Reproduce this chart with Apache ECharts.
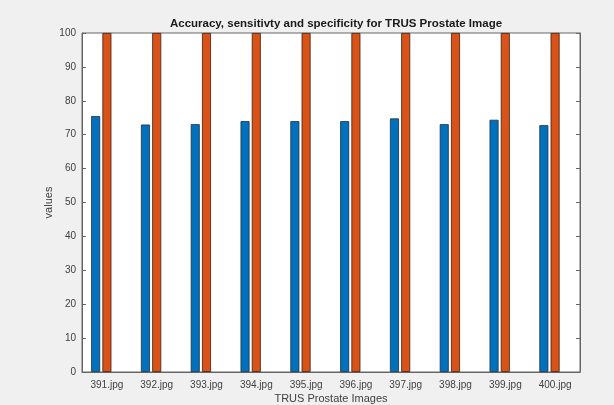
<!DOCTYPE html>
<html>
<head>
<meta charset="utf-8">
<script src="https://cdn.jsdelivr.net/npm/echarts@6/dist/echarts.min.js"></script>
<style>
html,body{margin:0;padding:0;background:#f0f0f0;}
#c{width:614px;height:405px;}
</style>
</head>
<body>
<div id="c"></div>
<script>
const categories = ['391.jpg','392.jpg','393.jpg','394.jpg','395.jpg','396.jpg','397.jpg','398.jpg','399.jpg','400.jpg'];
const accuracy = [75.5, 73.0, 73.1, 74.0, 74.0, 74.0, 74.8, 73.1, 74.4, 72.8];
const sensitivity = [100, 100, 100, 100, 100, 100, 100, 100, 100, 100];
const specificity = [0, 0, 0, 0, 0, 0, 0, 0, 0, 0];
const yTicks = [0, 10, 20, 30, 40, 50, 60, 70, 80, 90, 100];

const chart = echarts.init(document.getElementById('c'));
const txt = '#404040';
const barCommon = { type: 'bar', barWidth: 9, barGap: '25%', animation: false };
chart.setOption({
  backgroundColor: '#f0f0f0',
  title: {
    text: 'Accuracy, sensitivty and specificity for TRUS Prostate Image',
    left: 331, top: 13, textAlign: 'center',
    textStyle: { fontFamily: 'Liberation Sans, Arial, sans-serif', fontSize: 11.5, fontWeight: 'bold', color: '#1a1a1a' }
  },
  grid: { left: 82, right: 34, top: 33, bottom: 33, outerBoundsMode: 'none', containLabel: false, show: true, backgroundColor: '#ffffff', borderColor: '#666', borderWidth: 1 },
  xAxis: {
    type: 'category', data: categories,
    name: 'TRUS Prostate Images', nameLocation: 'middle', nameGap: 21, nameMoveOverlap: false,
    nameTextStyle: { fontFamily: 'Liberation Sans, Arial, sans-serif', fontSize: 11, color: txt },
    axisLine: { lineStyle: { color: '#666' } },
    axisTick: { show: true, inside: true, alignWithLabel: true, length: 4, lineStyle: { color: '#666' } },
    axisLabel: { fontFamily: 'Liberation Sans, Arial, sans-serif', fontSize: 10, color: txt, margin: 8 },
    splitLine: { show: false }
  },
  yAxis: [{
    type: 'value', min: yTicks[0], max: yTicks[yTicks.length-1], interval: 10,
    name: 'values', nameLocation: 'middle', nameGap: 28, nameRotate: 90, nameMoveOverlap: false,
    nameTextStyle: { fontFamily: 'Liberation Sans, Arial, sans-serif', fontSize: 11, color: txt },
    axisLine: { show: true, lineStyle: { color: '#666' } },
    axisTick: { show: true, inside: true, length: 4, lineStyle: { color: '#666' } },
    axisLabel: { fontFamily: 'Liberation Sans, Arial, sans-serif', fontSize: 10, color: txt, margin: 6 },
    splitLine: { show: false }
  }, {
    type: 'value', min: 0, max: 100, interval: 10, position: 'right',
    axisLine: { show: true, lineStyle: { color: '#666' } },
    axisTick: { show: true, inside: true, length: 4, lineStyle: { color: '#666' } },
    axisLabel: { show: false }, splitLine: { show: false }
  }],
  series: [
    Object.assign({}, barCommon, { name: 'Accuracy', data: accuracy, itemStyle: { color: '#0072BD', borderColor: '#1f2f3f', borderWidth: 0.8 } }),
    Object.assign({}, barCommon, { name: 'Sensitivity', data: sensitivity, itemStyle: { color: '#D95319', borderColor: '#3a2010', borderWidth: 0.8 } }),
    Object.assign({}, barCommon, { name: 'Specificity', data: specificity, itemStyle: { color: '#EDB120' } })
  ]
});
</script>
</body>
</html>
